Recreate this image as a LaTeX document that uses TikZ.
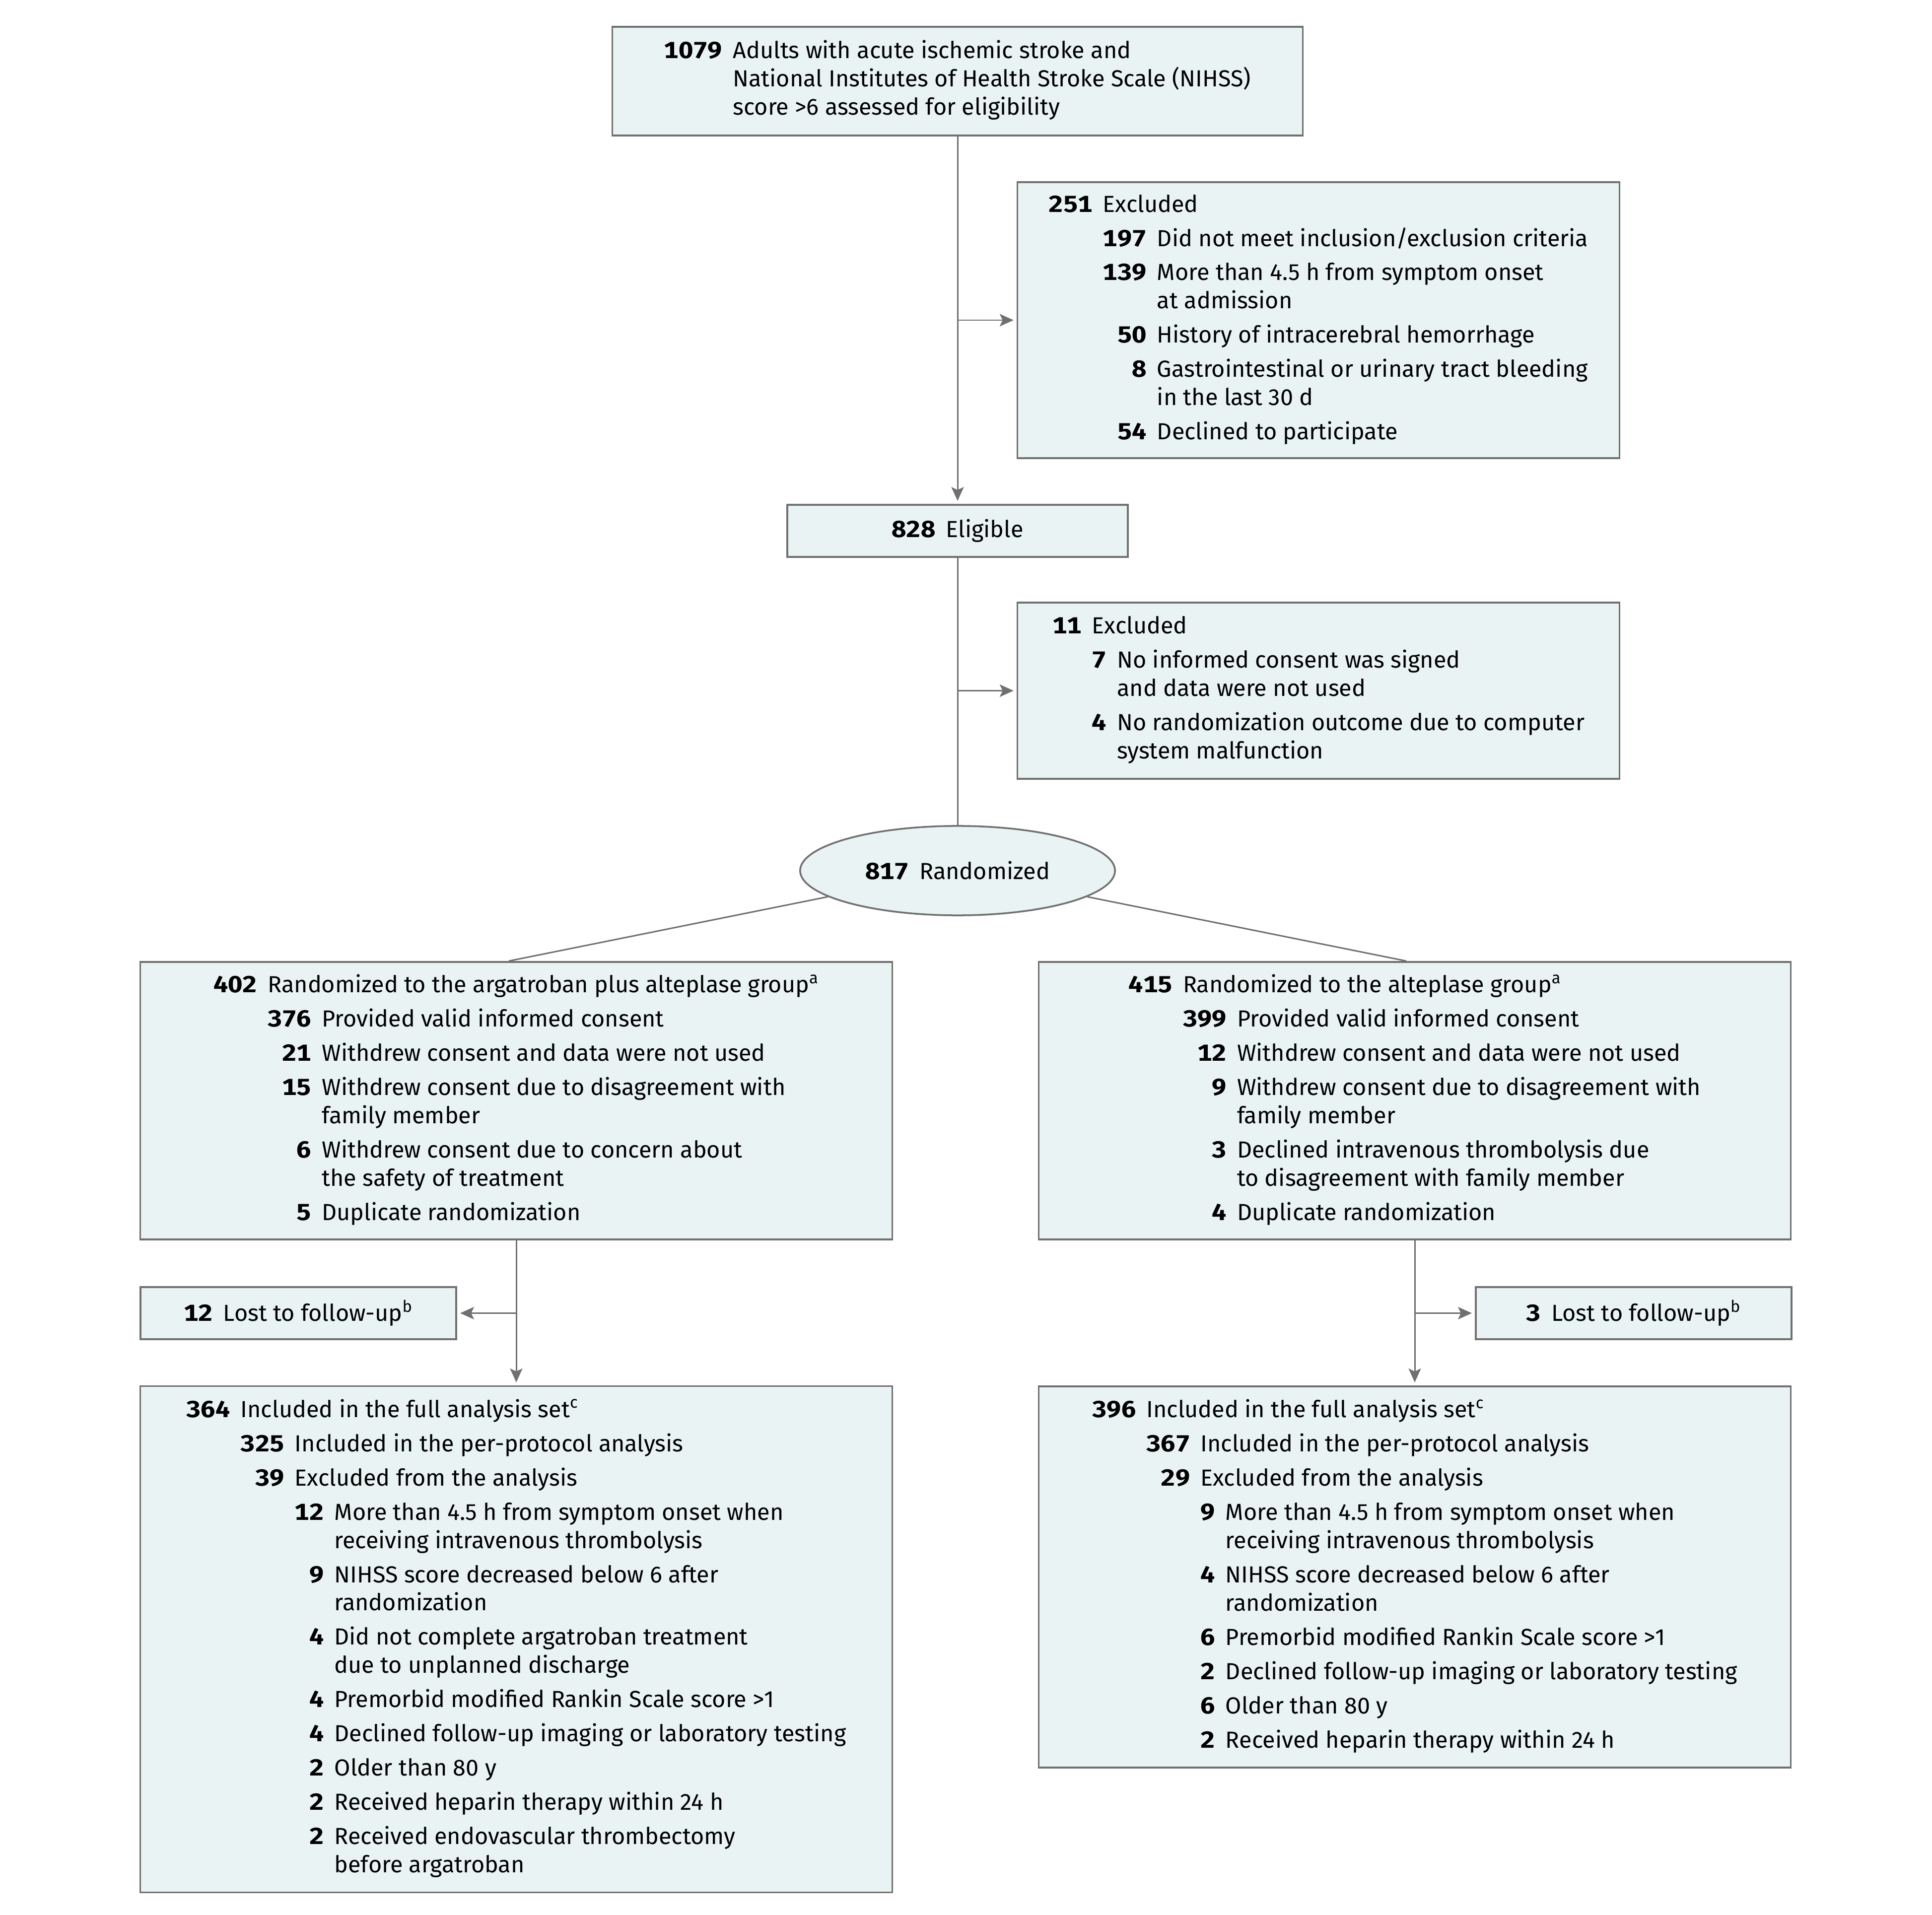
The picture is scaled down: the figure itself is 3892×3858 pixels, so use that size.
\documentclass[tikz,border=0pt]{standalone}
\usepackage{fontspec}
\setmainfont{Fira Sans}
\newfontfamily\cntfont[Numbers=Monospaced, FakeStretch=1.12]{Fira Sans}
\usepackage{xcolor}
\usetikzlibrary{shapes, arrows.meta, positioning}

\definecolor{boxfill}{RGB}{233,243,244}
\definecolor{linegray}{RGB}{112,112,112}

\newcommand{\boxfont}{\fontsize{13.3pt}{16.2pt}\selectfont}
\newcommand{\cnt}[1]{{\cntfont\bfseries #1}}
\newcommand{\nxt}{\\[3.4pt]}
\setlength{\tabcolsep}{3pt}

\begin{document}
\begin{tikzpicture}[x=0.01cm, y=-0.01cm,
        box/.style={rectangle, draw=linegray, fill=boxfill, line width=1pt, inner sep=0pt, font=\boxfont},
        link/.style={draw=linegray, line width=0.85pt},
        arr/.style={link, -{Stealth[length=0.28cm, width=0.25cm, inset=0.06cm]}, shorten >=0.06cm}]
    \useasboundingbox (0,0) rectangle (3892,3858);

    \node[box, minimum width=13.9cm, minimum height=2.19cm] (screen) at (1929, 163.5) {%
        \begin{tabular}{@{}rl@{}}
            \cnt{1079} & Adults with acute ischemic stroke and\\
             & National Institutes of Health Stroke Scale (NIHSS)\\
             & score >6 assessed for eligibility
        \end{tabular}};
    \node[box, minimum width=12.12cm, minimum height=5.56cm] (excla) at (2656, 645) {%
        \begin{tabular}{@{}rrl@{}}
            \cnt{251} & \multicolumn{2}{l@{}}{Excluded}\nxt
             & \cnt{197} & Did not meet inclusion/exclusion criteria\nxt
             & \cnt{139} & More than 4.5 h from symptom onset\\
             & & at admission\nxt
             & \cnt{50} & History of intracerebral hemorrhage\nxt
             & \cnt{8} & Gastrointestinal or urinary tract bleeding\\
             & & in the last 30 d\nxt
             & \cnt{54} & Declined to participate
        \end{tabular}};
    \node[box, minimum width=6.86cm, minimum height=1.05cm] (elig) at (1929, 1069.5) {\cnt{828}\hspace{6pt}Eligible};
    \node[box, minimum width=12.12cm, minimum height=3.55cm] (exclb) at (2656, 1391.5) {%
        \begin{tabular}{@{}rrl@{}}
            \cnt{11} & \multicolumn{2}{l@{}}{Excluded}\nxt
             & \cnt{7} & No informed consent was signed\\
             & & and data were not used\nxt
             & \cnt{4} & No randomization outcome due to computer\\
             & & system malfunction
        \end{tabular}};
    \node[box, ellipse, minimum width=6.34cm, minimum height=1.8cm] (rand) at (1929, 1754) {\cnt{817}\hspace{6pt}Randomized};

    \node[box, minimum width=15.14cm, minimum height=5.59cm] (argA) at (1040, 2217.5) {%
        \begin{tabular}{@{}rrl@{}}
            \cnt{402} & \multicolumn{2}{l@{}}{Randomized to the argatroban plus alteplase group\textsuperscript{a}}\nxt
             & \cnt{376} & Provided valid informed consent\nxt
             & \cnt{21} & Withdrew consent and data were not used\nxt
             & \cnt{15} & Withdrew consent due to disagreement with\\
             & & family member\nxt
             & \cnt{6} & Withdrew consent due to concern about\\
             & & the safety of treatment\nxt
             & \cnt{5} & Duplicate randomization
        \end{tabular}};
    \node[box, minimum width=15.14cm, minimum height=5.59cm] (altA) at (2850, 2217.5) {%
        \begin{tabular}{@{}rrl@{}}
            \cnt{415} & \multicolumn{2}{l@{}}{Randomized to the alteplase group\textsuperscript{a}}\nxt
             & \cnt{399} & Provided valid informed consent\nxt
             & \cnt{12} & Withdrew consent and data were not used\nxt
             & \cnt{9} & Withdrew consent due to disagreement with\\
             & & family member\nxt
             & \cnt{3} & Declined intravenous thrombolysis due\\
             & & to disagreement with family member\nxt
             & \cnt{4} & Duplicate randomization
        \end{tabular}};

    \node[box, minimum width=6.36cm, minimum height=1.05cm] (lostA) at (601, 2645.5) {\cnt{12}\hspace{6pt}Lost to follow-up\textsuperscript{b}};
    \node[box, minimum width=6.36cm, minimum height=1.05cm] (lostB) at (3291, 2645.5) {\cnt{3}\hspace{6pt}Lost to follow-up\textsuperscript{b}};

    \node[box, minimum width=15.14cm, minimum height=10.19cm] (fasA) at (1040, 3302.5) {%
        \begin{tabular}{@{}rrrl@{}}
            \cnt{364} & \multicolumn{3}{l@{}}{Included in the full analysis set\textsuperscript{c}}\nxt
             & \cnt{325} & \multicolumn{2}{l@{}}{Included in the per-protocol analysis}\nxt
             & \cnt{39} & \multicolumn{2}{l@{}}{Excluded from the analysis}\nxt
             & & \cnt{12} & More than 4.5 h from symptom onset when\\
             & & & receiving intravenous thrombolysis\nxt
             & & \cnt{9} & NIHSS score decreased below 6 after\\
             & & & randomization\nxt
             & & \cnt{4} & Did not complete argatroban treatment\\
             & & & due to unplanned discharge\nxt
             & & \cnt{4} & Premorbid modified Rankin Scale score >1\nxt
             & & \cnt{4} & Declined follow-up imaging or laboratory testing\nxt
             & & \cnt{2} & Older than 80 y\nxt
             & & \cnt{2} & Received heparin therapy within 24 h\nxt
             & & \cnt{2} & Received endovascular thrombectomy\\
             & & & before argatroban
        \end{tabular}};
    \node[box, minimum width=15.14cm, minimum height=7.68cm] (fasB) at (2850, 3177) {%
        \begin{tabular}{@{}rrrl@{}}
            \cnt{396} & \multicolumn{3}{l@{}}{Included in the full analysis set\textsuperscript{c}}\nxt
             & \cnt{367} & \multicolumn{2}{l@{}}{Included in the per-protocol analysis}\nxt
             & \cnt{29} & \multicolumn{2}{l@{}}{Excluded from the analysis}\nxt
             & & \cnt{9} & More than 4.5 h from symptom onset when\\
             & & & receiving intravenous thrombolysis\nxt
             & & \cnt{4} & NIHSS score decreased below 6 after\\
             & & & randomization\nxt
             & & \cnt{6} & Premorbid modified Rankin Scale score >1\nxt
             & & \cnt{2} & Declined follow-up imaging or laboratory testing\nxt
             & & \cnt{6} & Older than 80 y\nxt
             & & \cnt{2} & Received heparin therapy within 24 h
        \end{tabular}};

    \draw[arr] (screen) -- (elig);
    \draw[arr] (screen.south |- excla) -- (excla);
    \draw[link] (elig) -- (rand);
    \draw[arr] (elig.south |- exclb) -- (exclb);
    \draw[link] (rand) -- ([xshift=-0.15cm]argA.north);
    \draw[link] (rand) -- ([xshift=-0.17cm]altA.north);
    \draw[arr] (argA) -- (fasA);
    \draw[arr] (argA.south |- lostA) -- (lostA);
    \draw[arr] (altA) -- (fasB);
    \draw[arr] (altA.south |- lostB) -- (lostB);
\end{tikzpicture}
\end{document}
